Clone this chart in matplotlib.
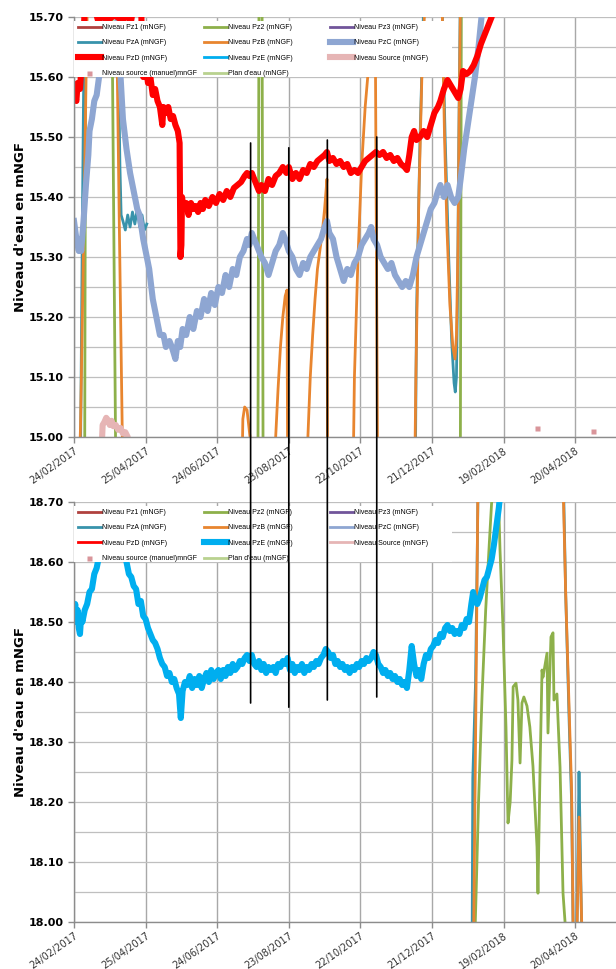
import matplotlib
matplotlib.use("Agg")
import matplotlib.pyplot as plt
import matplotlib.dates as mdates
from matplotlib.patches import ConnectionPatch, Rectangle
import numpy as np
import pandas as pd

nan = np.nan
start = pd.Timestamp("2017-02-24")

# (days since 24/02/2017, level in mNGF)
pz1 = []
pz3 = []
plan_eau = []

pz2 = [(0, 14.8), (8.3, 14.85), (9.0, 15.0), (9.8, 15.72), (10.5, 16.0), (30.8, 16.0),
       (31.8, 15.72), (34.8, 15.0), (35.5, 14.8), (153.6, 14.8), (154.2, 15.0), (155.0, 15.72),
       (155.6, 16.0), (157.0, 16.0), (157.6, 15.72), (158.4, 15.0), (159, 14.8), (323.2, 14.8),
       (323.8, 15.0), (324.6, 15.72), (325.5, 16.5), (330, 17.2), (334.5, 17.8), (336, 17.98),
       (337, 18.05), (339, 18.2), (342, 18.38), (345, 18.52), (348, 18.63), (350, 18.70),
       (352, 18.76), (355, 18.76), (357, 18.62), (359.5, 18.49), (362, 18.325), (363.7, 18.165),
       (365.5, 18.2), (367, 18.27), (368, 18.392), (370.4, 18.398), (372, 18.37), (373.8, 18.265),
       (375.4, 18.365), (377, 18.375), (379.6, 18.36), (382, 18.325), (384.6, 18.26), (388, 18.125),
       (388.8, 18.048), (390.5, 18.25), (392.2, 18.42), (393, 18.408), (396.4, 18.448),
       (397.2, 18.315), (399.7, 18.475), (401.4, 18.482), (402.2, 18.37), (404.7, 18.38),
       (407.3, 18.258), (409.8, 18.048), (411.5, 18.0), (413, 17.9)]

pza = [(0, 14.8), (5.5, 14.98), (7, 15.35), (8, 15.57), (9.5, 15.75), (11, 16.0), (35, 16.0),
       (36.5, 15.72), (38.5, 15.45), (39.5, 15.37), (41, 15.36), (43, 15.345), (45, 15.37),
       (47, 15.35), (49, 15.375), (51, 15.355), (53, 15.38), (55, 15.35), (57, 15.37),
       (59, 15.345), (61, 15.355), (61.5, nan), (285, nan), (285.5, 14.8), (287, 15.2),
       (290, 15.5), (293, 15.72), (295, 16.0), (308.5, 15.72), (311, 15.50), (314, 15.30),
       (316.5, 15.16), (318.5, 15.09), (319.5, 15.075), (320.5, 15.10), (321.5, 15.25),
       (322.5, 15.5), (323.8, 15.75), (326, 16.5), (333, 17.6), (333.5, 17.9), (334.2, 18.24),
       (336.5, 18.4), (338.6, 18.72), (340, 18.9), (408, 18.9), (410, 18.75), (412, 18.55),
       (415, 18.33), (417, 18.2), (418.2, 18.0), (419.5, 17.8), (421.5, 18.0), (423.2, 18.25),
       (424.5, 18.1), (425.7, 17.95), (427, 17.6)]

pzb = [(0, 14.80), (4.5, 14.95), (5.5, 15.02), (7, 15.20), (9, 15.45), (10.5, 15.65),
       (11.5, 15.75), (34.5, 15.75), (36, 15.65), (38, 15.35), (40.5, 15.00), (41.5, 14.80),
       (140, 14.85), (141.5, 15.03), (143, 15.05), (145, 15.045), (147.5, 15.00), (148.5, 14.80),
       (167.5, 14.85), (169, 15.00), (171, 15.08), (173, 15.15), (175, 15.20), (177, 15.235),
       (178.5, 15.245), (179.3, 14.80), (194.5, 14.85), (196, 15.00), (198, 15.10), (200, 15.17),
       (202, 15.23), (204, 15.28), (206, 15.31), (208, 15.34), (210, 15.38), (212, 15.43),
       (212.6, 14.80), (233.3, 14.85), (235, 15.10), (238, 15.30), (241, 15.45), (244, 15.55),
       (247, 15.62), (250, 15.66), (252.5, 15.67), (254.8, 14.80), (285, 14.85), (286.5, 15.10),
       (289, 15.40), (291.5, 15.60), (294, 15.72), (295, 15.80), (308.5, 15.72), (310.5, 15.50),
       (312.5, 15.35), (315, 15.22), (317.5, 15.15), (319.3, 15.13), (320.5, 15.17),
       (321.8, 15.32), (322.8, 15.55), (324, 15.75), (330, 17.00), (334, 17.80), (335, 18.00),
       (336.5, 18.30), (338.6, 18.75), (345, 19.00), (405, 18.90), (410, 18.72), (412, 18.55),
       (415, 18.35), (417, 18.22), (418.2, 18.00), (419.5, 17.80), (421.5, 17.98), (423.2, 18.175),
       (425.7, 17.98), (427, 17.60)]

pzc = [(0, 15.36), (2, 15.33), (4, 15.31), (5, 15.33), (6, 15.31), (8, 15.36), (10, 15.42),
       (12, 15.47), (13, 15.51), (15, 15.53), (17, 15.56), (19, 15.57), (21, 15.60), (23, 15.66),
       (24.5, 15.72), (30, 15.78), (35, 15.74), (36.5, 15.69), (39, 15.60), (41, 15.53),
       (44, 15.48), (47, 15.44), (50, 15.41), (53, 15.38), (55, 15.37), (58, 15.33), (61, 15.30),
       (63, 15.28), (66, 15.23), (69, 15.20), (72, 15.17), (75, 15.17), (77, 15.15), (80, 15.16),
       (82, 15.15), (85, 15.13), (87, 15.16), (89, 15.15), (91, 15.18), (94, 15.17), (97, 15.20),
       (100, 15.18), (103, 15.21), (106, 15.20), (109, 15.23), (112, 15.21), (115, 15.24),
       (118, 15.22), (121, 15.25), (124, 15.24), (127, 15.27), (130, 15.25), (133, 15.28),
       (136, 15.27), (139, 15.30), (142, 15.31), (145, 15.33), (147, 15.32), (149, 15.34),
       (151, 15.33), (153, 15.32), (155, 15.31), (157, 15.30), (160, 15.29), (163, 15.27),
       (166, 15.29), (169, 15.31), (172, 15.32), (175, 15.34), (177, 15.33), (180, 15.31),
       (183, 15.30), (186, 15.28), (189, 15.27), (192, 15.29), (195, 15.28), (198, 15.30),
       (201, 15.31), (204, 15.32), (207, 15.33), (210, 15.35), (212, 15.36), (214, 15.34),
       (217, 15.33), (220, 15.30), (223, 15.28), (226, 15.26), (229, 15.28), (232, 15.27),
       (235, 15.29), (238, 15.30), (241, 15.32), (244, 15.33), (247, 15.34), (249, 15.35),
       (251, 15.33), (254, 15.32), (257, 15.30), (260, 15.29), (263, 15.28), (266, 15.29),
       (269, 15.27), (272, 15.26), (275, 15.25), (278, 15.26), (281, 15.25), (284, 15.27),
       (287, 15.30), (290, 15.32), (293, 15.34), (296, 15.36), (299, 15.38), (302, 15.39),
       (305, 15.41), (307, 15.42), (310, 15.40), (313, 15.42), (316, 15.40), (319, 15.39),
       (322, 15.40), (324, 15.43), (327, 15.48), (330, 15.52), (333, 15.56), (336, 15.60),
       (339, 15.65), (341, 15.69), (343, 15.73), (346, 15.78)]

pzd = [(0, 15.57), (2, 15.56), (3, 15.59), (5, 15.58), (6, 15.61), (8, 15.66), (9, 15.72),
       (14, 15.75), (18, 15.71), (20, 15.695), (24, 15.70), (28, 15.695), (32, 15.70),
       (34, 15.72), (36, 15.70), (40, 15.695), (44, 15.70), (48, 15.695), (50, 15.72),
       (54, 15.75), (56.5, 15.70), (57, 15.64), (58, 15.60), (60, 15.62), (62, 15.59),
       (64, 15.60), (66, 15.57), (68, 15.58), (70, 15.56), (72, 15.55), (74, 15.52), (75, 15.55),
       (77, 15.54), (79, 15.55), (81, 15.53), (83, 15.535), (85, 15.52), (87, 15.51),
       (88.5, 15.49), (89.2, 15.30), (90, 15.32), (90.5, 15.40), (92, 15.38), (94, 15.39),
       (96, 15.37), (98, 15.39), (100, 15.38), (102, 15.385), (104, 15.375), (106, 15.39),
       (108, 15.38), (110, 15.395), (113, 15.385), (116, 15.40), (119, 15.39), (122, 15.405),
       (125, 15.395), (128, 15.41), (131, 15.40), (134, 15.415), (137, 15.42), (140, 15.425),
       (143, 15.435), (145, 15.44), (147, 15.435), (149, 15.44), (151, 15.43), (153, 15.42),
       (155, 15.41), (157, 15.42), (160, 15.41), (163, 15.43), (166, 15.42), (169, 15.435),
       (172, 15.44), (175, 15.45), (178, 15.44), (180, 15.45), (183, 15.43), (186, 15.44),
       (189, 15.43), (192, 15.445), (195, 15.44), (198, 15.455), (201, 15.45), (204, 15.46),
       (207, 15.465), (210, 15.47), (212, 15.475), (214, 15.46), (217, 15.465), (220, 15.455),
       (223, 15.46), (226, 15.45), (229, 15.455), (232, 15.44), (235, 15.445), (238, 15.44),
       (241, 15.45), (244, 15.46), (247, 15.465), (250, 15.47), (253, 15.475), (256, 15.47),
       (259, 15.475), (262, 15.465), (265, 15.47), (268, 15.46), (271, 15.465), (274, 15.455),
       (277, 15.45), (279, 15.445), (281, 15.47), (283, 15.50), (285, 15.51), (287, 15.495),
       (290, 15.50), (293, 15.51), (296, 15.50), (299, 15.52), (302, 15.54), (305, 15.55),
       (307, 15.56), (310, 15.58), (313, 15.595), (316, 15.585), (319, 15.575), (322, 15.565),
       (324, 15.58), (326, 15.61), (329, 15.605), (332, 15.61), (335, 15.62), (338, 15.635),
       (341, 15.655), (344, 15.67), (347, 15.685), (350, 15.70), (352, 15.72)]

pze = [(0, 18.51), (1, 18.53), (2, 18.50), (3, 18.52), (4, 18.49), (5, 18.48), (6, 18.51),
       (7, 18.50), (9, 18.52), (11, 18.53), (13, 18.55), (15, 18.555), (17, 18.58), (19, 18.59),
       (21, 18.61), (23, 18.64), (26, 18.66), (30, 18.68), (34, 18.67), (38, 18.65), (41, 18.62),
       (44, 18.60), (46, 18.58), (48, 18.575), (50, 18.56), (52, 18.555), (54, 18.53),
       (56, 18.535), (58, 18.51), (60, 18.505), (62, 18.49), (64, 18.48), (66, 18.47),
       (68, 18.465), (70, 18.455), (72, 18.44), (74, 18.43), (76, 18.425), (78, 18.41),
       (80, 18.415), (82, 18.40), (84, 18.405), (86, 18.39), (88, 18.38), (89.5, 18.34),
       (91, 18.385), (93, 18.40), (95, 18.395), (97, 18.41), (99, 18.39), (101, 18.405),
       (103, 18.395), (105, 18.41), (107, 18.39), (109, 18.405), (111, 18.415), (113, 18.40),
       (115, 18.42), (117, 18.405), (119, 18.415), (121, 18.42), (123, 18.405), (125, 18.42),
       (127, 18.41), (129, 18.425), (131, 18.415), (133, 18.43), (135, 18.42), (137, 18.425),
       (139, 18.435), (141, 18.43), (143, 18.44), (145, 18.445), (147, 18.435), (149, 18.445),
       (151, 18.43), (153, 18.425), (155, 18.435), (157, 18.42), (159, 18.43), (161, 18.415),
       (163, 18.425), (165, 18.42), (167, 18.425), (169, 18.415), (171, 18.43), (173, 18.425),
       (175, 18.435), (177, 18.43), (179, 18.44), (181, 18.42), (183, 18.43), (185, 18.415),
       (187, 18.425), (189, 18.42), (191, 18.43), (193, 18.415), (195, 18.425), (197, 18.42),
       (199, 18.43), (201, 18.425), (203, 18.435), (205, 18.43), (207, 18.44), (209, 18.445),
       (211, 18.455), (213, 18.45), (215, 18.44), (217, 18.445), (219, 18.43), (221, 18.435),
       (223, 18.425), (225, 18.43), (227, 18.42), (229, 18.425), (231, 18.415), (233, 18.425),
       (235, 18.42), (237, 18.43), (239, 18.425), (241, 18.435), (243, 18.43), (245, 18.44),
       (247, 18.435), (249, 18.44), (251, 18.45), (253, 18.445), (255, 18.43), (257, 18.425),
       (259, 18.415), (261, 18.42), (263, 18.41), (265, 18.415), (267, 18.405), (269, 18.41),
       (271, 18.40), (273, 18.405), (275, 18.395), (277, 18.40), (279, 18.39), (281, 18.42),
       (283, 18.46), (285, 18.43), (287, 18.41), (289, 18.42), (291, 18.405), (293, 18.43),
       (295, 18.445), (297, 18.44), (299, 18.455), (301, 18.46), (303, 18.47), (305, 18.465),
       (307, 18.48), (309, 18.475), (311, 18.49), (313, 18.495), (315, 18.485), (317, 18.49),
       (319, 18.48), (321, 18.485), (323, 18.48), (325, 18.495), (327, 18.49), (329, 18.505),
       (331, 18.50), (333, 18.53), (334.5, 18.55), (336, 18.535), (338, 18.53), (340, 18.54),
       (342, 18.555), (344, 18.57), (346, 18.575), (348, 18.59), (350, 18.605), (352, 18.63),
       (354, 18.66), (356, 18.69), (357.5, 18.72)]

source = [(22.5, 14.95), (24, 15.02), (25.5, 15.025), (27, 15.032), (28.5, 15.028), (30, 15.02),
          (31.5, 15.027), (33, 15.018), (35, 15.02), (37, 15.012), (39, 15.015), (41, 15.006),
          (43, 15.008), (45, 15.0), (46.5, 14.95)]

source_manual = [(388, 15.015), (435, 15.01)]

# date, top of stroke (upper chart), bottom of stroke (lower chart)
marker_days = [148, 180, 212.3, 253.7]
marker_top = [15.49, 15.482, 15.495, 15.50]
marker_bottom = [18.365, 18.358, 18.37, 18.375]

tick_days = [0, 60, 120, 180, 240, 300, 360, 420]

legend_columns = [
    ["Niveau Pz1 (mNGF)", "Niveau PzA (mNGF)", "Niveau PzD (mNGF)", "Niveau source (manuel)mnGF"],
    ["Niveau Pz2 (mNGF)", "Niveau PzB (mNGF)", "Niveau PzE (mNGF)", "Plan d'eau (mNGF)"],
    ["Niveau Pz3 (mNGF)", "Niveau PzC (mNGF)", "Niveau Source (mNGF)"],
]
legend_x = [0.0074, 0.240, 0.472]


def to_num(days):
    d = start + pd.to_timedelta(np.asarray(days, dtype=float), unit="D")
    return mdates.date2num(d.to_pydatetime())


def split(points):
    if not points:
        return np.array([]), np.array([])
    d, v = zip(*points)
    return to_num(d), np.array(v, dtype=float)


series = [
    ("Niveau Pz1 (mNGF)", pz1, "#B0413E"),
    ("Niveau Pz2 (mNGF)", pz2, "#8DB04A"),
    ("Niveau Pz3 (mNGF)", pz3, "#71559A"),
    ("Niveau PzA (mNGF)", pza, "#3893AB"),
    ("Niveau PzB (mNGF)", pzb, "#E8852F"),
    ("Niveau PzC (mNGF)", pzc, "#8EA6D2"),
    ("Niveau PzD (mNGF)", pzd, "#FF0000"),
    ("Niveau PzE (mNGF)", pze, "#00AEEF"),
    ("Niveau Source (mNGF)", source, "#E6B5B5"),
]

fig = plt.figure(figsize=(6.16, 9.69), dpi=100)
left = 74 / 616
ax_top = fig.add_axes([left, 1 - 437 / 969, 1 - left, 420 / 969])
ax_bot = fig.add_axes([left, 1 - 922 / 969, 1 - left, 420 / 969])

panels = [(ax_top, 15.0, 15.7, ("PzC", "PzD", "Source")),
          (ax_bot, 18.0, 18.7, ("PzE",))]

for ax, lo, hi, thick in panels:
    handles = {}
    for label, pts, color in series:
        x, y = split(pts)
        lw = 4.4 if any(k in label for k in thick) else 2.0
        (ln,) = ax.plot(x, y, color=color, lw=lw, solid_joinstyle="round")
        handles[label] = ln
    mx, my = split(source_manual)
    (sq,) = ax.plot(mx, my, ls="none", marker="s", ms=3.6, color="#D9959A", mec="none")
    handles["Niveau source (manuel)mnGF"] = sq
    px, py = split(plan_eau)
    (pl,) = ax.plot(px, py, color="#B9D28F", lw=2.0)
    handles["Plan d'eau (mNGF)"] = pl

    ax.set_xlim(to_num([0])[0], to_num([454.2])[0])
    ax.set_ylim(lo, hi)
    ax.set_xticks(to_num(tick_days))
    ax.xaxis.set_major_formatter(mdates.DateFormatter("%d/%m/%Y"))
    ax.set_yticks(np.arange(lo, hi + 0.001, 0.1))
    ax.set_yticks(np.arange(lo, hi + 0.001, 0.05), minor=True)
    ax.yaxis.set_major_formatter(plt.FormatStrFormatter("%.2f"))
    ax.grid(which="both", axis="y", color="#BFBFBF", lw=0.9)
    ax.grid(which="major", axis="x", color="#A8A8A8", lw=1.0)
    ax.set_axisbelow(True)
    for s in ("top", "right"):
        ax.spines[s].set_visible(False)
    for s in ("left", "bottom"):
        ax.spines[s].set_color("#8C8C8C")
        ax.spines[s].set_linewidth(1.0)
    ax.tick_params(axis="both", which="major", length=4, color="#8C8C8C", width=1.0)
    ax.tick_params(axis="y", which="minor", length=0)
    ax.tick_params(axis="y", labelsize=8)
    ax.tick_params(axis="x", labelsize=7, labelcolor="#333333", pad=2)
    for t in ax.get_yticklabels():
        t.set_fontweight("bold")
    plt.setp(ax.get_xticklabels(), rotation=35, ha="right", rotation_mode="anchor")
    ax.set_ylabel("Niveau d'eau en mNGF", fontsize=9.5, fontweight="bold", labelpad=1)

    # white legend box sitting over the plot area
    ax.add_patch(Rectangle((0, 0.857), 0.697, 0.133, transform=ax.transAxes,
                           facecolor="white", edgecolor="none", zorder=4))
    for i, (cx, labels) in enumerate(zip(legend_x, legend_columns)):
        leg = ax.legend([handles[k] for k in labels], labels, loc="upper left",
                        bbox_to_anchor=(cx, 0.983), ncol=1,
                        prop={"family": "Liberation Sans", "size": 5.0},
                        handlelength=3.3, handletextpad=0.2, labelspacing=1.2,
                        borderpad=0.0, borderaxespad=0.0, frameon=False)
        if i < len(legend_columns) - 1:
            ax.add_artist(leg)

# hand-drawn marker strokes running across both charts
for d, yt, yb in zip(marker_days, marker_top, marker_bottom):
    xd = to_num([d])[0]
    con = ConnectionPatch(xyA=(xd, yt), coordsA=ax_top.transData,
                          xyB=(xd, yb), coordsB=ax_bot.transData,
                          color="black", lw=1.2)
    fig.add_artist(con)

fig.savefig("out.png", dpi=100)
